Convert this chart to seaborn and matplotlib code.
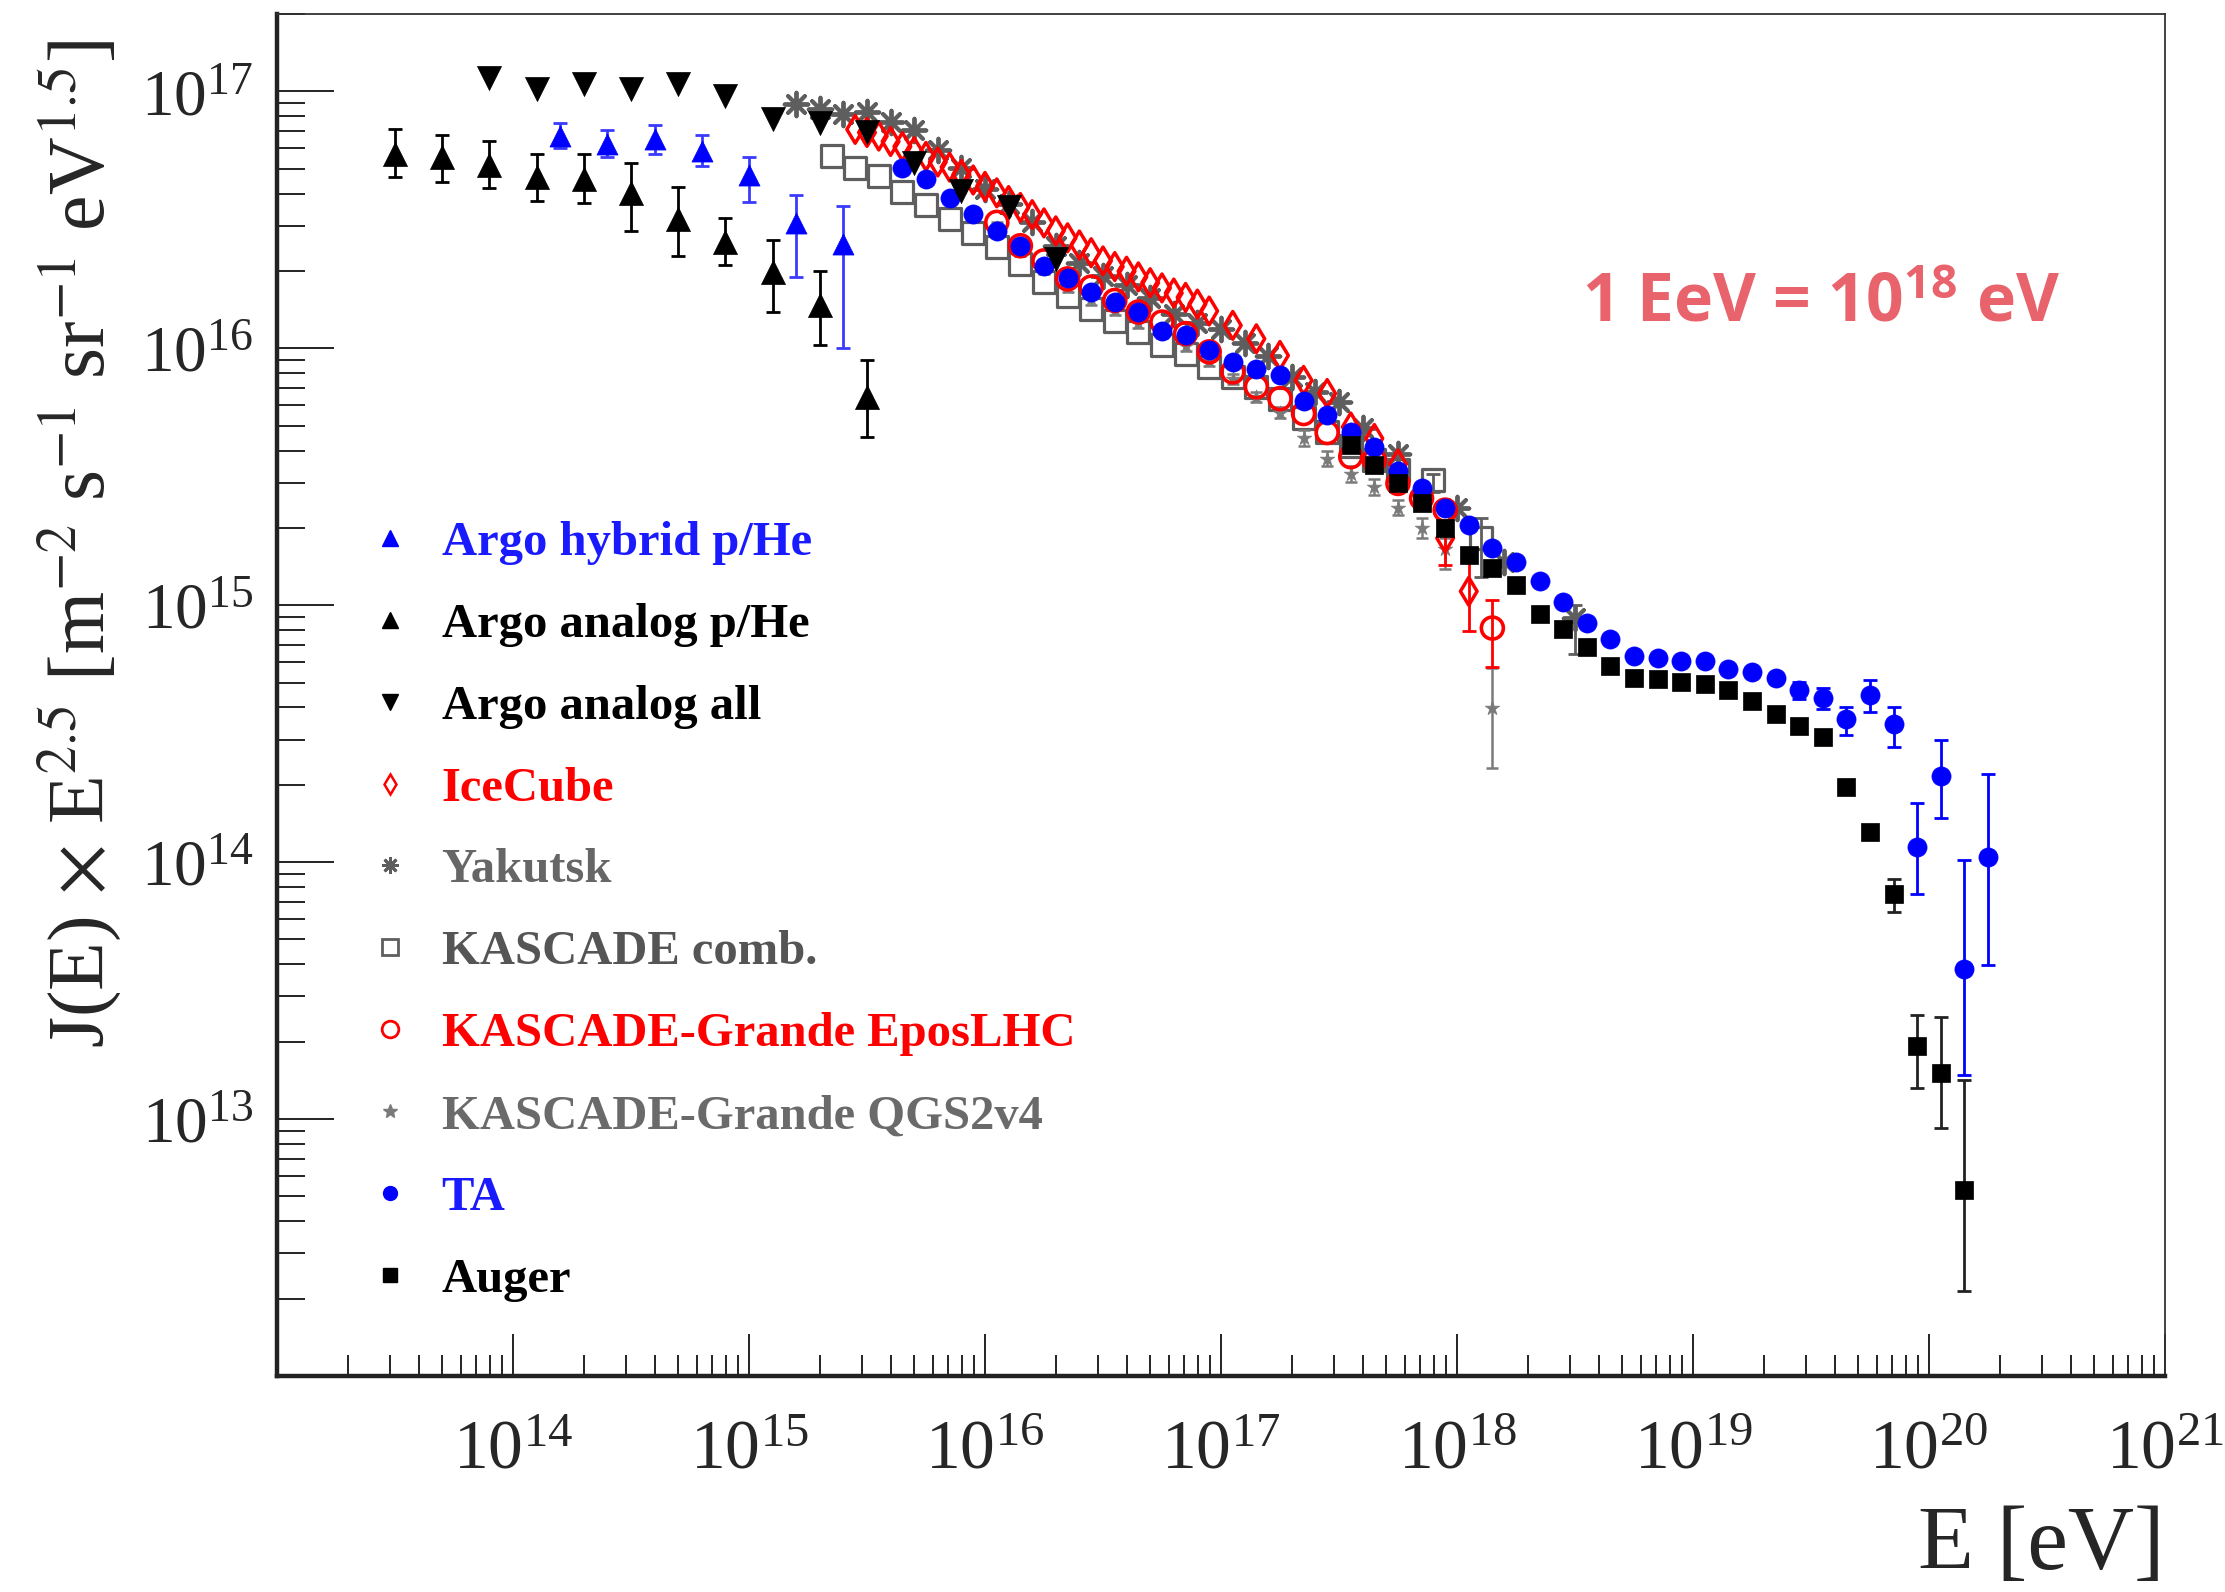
import numpy as np
import pandas as pd
import matplotlib
matplotlib.use("Agg")
import matplotlib.pyplot as plt
import seaborn as sns
from matplotlib.lines import Line2D
from matplotlib.ticker import LogLocator, NullFormatter, FixedLocator

# ---------------- data (log10 E [eV], log10 J*E^2.5) ----------------
argo_hyb_logE = [14.2, 14.4, 14.6, 14.8, 15.0, 15.2, 15.4]
argo_hyb_logJ = [16.827, 16.794, 16.814, 16.768, 16.674, 16.486, 16.406]
argo_hyb_hi = [16.878, 16.850, 16.868, 16.830, 16.746, 16.598, 16.555]
argo_hyb_lo = [16.781, 16.746, 16.755, 16.710, 16.568, 16.279, 16.001]

argo_ana_logE = [13.5, 13.7, 13.9, 14.1, 14.3, 14.5, 14.7, 14.9, 15.1, 15.3, 15.5]
argo_ana_logJ = [16.755, 16.743, 16.713, 16.665, 16.660, 16.604, 16.503, 16.413, 16.296, 16.167, 15.811]
argo_ana_hi = [16.852, 16.830, 16.805, 16.758, 16.758, 16.723, 16.629, 16.507, 16.422, 16.299, 15.953]
argo_ana_lo = [16.665, 16.648, 16.622, 16.574, 16.565, 16.458, 16.361, 16.325, 16.143, 16.014, 15.653]

argo_all_logE = [13.9, 14.1, 14.3, 14.5, 14.7, 14.9, 15.1, 15.3, 15.5, 15.7, 15.9, 16.1, 16.3]
argo_all_logJ = [17.053, 17.011, 17.030, 17.011, 17.030, 16.982, 16.891, 16.876, 16.840,
                 16.722, 16.612, 16.549, 16.348]

icecube_logE = [15.45, 15.50, 15.55, 15.60, 15.65, 15.70, 15.75, 15.80, 15.85, 15.90, 15.95,
                16.00, 16.05, 16.10, 16.15, 16.20, 16.25, 16.30, 16.35, 16.40, 16.45, 16.50,
                16.55, 16.60, 16.65, 16.70, 16.75, 16.80, 16.85, 16.90, 16.95, 17.05, 17.15,
                17.25, 17.35, 17.45, 17.55, 17.65, 17.75, 17.85, 17.95, 18.05]
icecube_logJ = [16.852, 16.840, 16.826, 16.805, 16.785, 16.765, 16.747, 16.725, 16.705, 16.677,
                16.655, 16.630, 16.605, 16.575, 16.548, 16.520, 16.488, 16.457, 16.430, 16.402,
                16.372, 16.340, 16.318, 16.300, 16.278, 16.255, 16.235, 16.215, 16.198, 16.172,
                16.145, 16.089, 16.037, 15.972, 15.875, 15.824, 15.694, 15.649, 15.550, 15.430,
                15.261, 15.054]
icecube_err_logE = [17.95, 18.05]
icecube_err_hi = [15.293, 15.172]
icecube_err_lo = [15.157, 14.899]

yakutsk_logE = [15.2, 15.3, 15.4, 15.5, 15.6, 15.7, 15.8, 15.9, 16.0, 16.1, 16.2, 16.3, 16.4,
                16.5, 16.6, 16.7, 16.8, 16.9, 17.0, 17.1, 17.2, 17.3, 17.4, 17.5, 17.6, 17.75,
                18.0, 18.2, 18.5]
yakutsk_logJ = [16.95, 16.93, 16.91, 16.92, 16.88, 16.85, 16.77, 16.70, 16.62, 16.56, 16.49,
                16.40, 16.33, 16.28, 16.245, 16.195, 16.135, 16.10, 16.075, 16.02, 15.97,
                15.89, 15.83, 15.79, 15.69, 15.59, 15.38, 15.17, 14.95]
yakutsk_err_logE = [18.5]
yakutsk_err_hi = [15.00]
yakutsk_err_lo = [14.81]

kascade_logE = [15.35, 15.45, 15.55, 15.65, 15.75, 15.85, 15.95, 16.05, 16.15, 16.25, 16.35,
                16.45, 16.55, 16.65, 16.75, 16.85, 16.95, 17.05, 17.15, 17.25, 17.35, 17.45,
                17.55, 17.65, 17.75, 17.90, 18.10]
kascade_logJ = [16.747, 16.700, 16.671, 16.609, 16.558, 16.503, 16.449, 16.393, 16.328, 16.257,
                16.203, 16.154, 16.108, 16.063, 16.011, 15.979, 15.927, 15.889, 15.850, 15.804,
                15.727, 15.675, 15.618, 15.564, 15.525, 15.486, 15.260]
kascade_err_logE = [17.90, 18.10]
kascade_err_hi = [15.51, 15.34]
kascade_err_lo = [15.44, 15.11]

epos_logE = [16.05, 16.15, 16.25, 16.35, 16.45, 16.55, 16.65, 16.75, 16.85, 16.95, 17.05,
             17.15, 17.25, 17.35, 17.45, 17.55, 17.65, 17.75, 17.85, 17.95, 18.15]
epos_logJ = [16.490, 16.399, 16.340, 16.270, 16.238, 16.186, 16.141, 16.102, 16.057, 15.986,
             15.908, 15.850, 15.804, 15.746, 15.672, 15.578, 15.564, 15.474, 15.416, 15.370,
             14.911]
epos_err_logE = [18.15]
epos_err_hi = [15.021]
epos_err_lo = [14.758]

qgs_logE = [16.05, 16.15, 16.25, 16.35, 16.45, 16.55, 16.65, 16.75, 16.85, 16.95, 17.05,
            17.15, 17.25, 17.35, 17.45, 17.55, 17.65, 17.75, 17.85, 17.95, 18.15]
qgs_logJ = [16.47, 16.38, 16.31, 16.24, 16.19, 16.15, 16.10, 16.06, 16.01, 15.95, 15.88,
            15.81, 15.75, 15.65, 15.57, 15.51, 15.46, 15.38, 15.30, 15.22, 14.60]
qgs_hi = [16.49, 16.40, 16.33, 16.26, 16.21, 16.17, 16.12, 16.08, 16.03, 15.97, 15.90,
          15.83, 15.77, 15.68, 15.60, 15.54, 15.49, 15.41, 15.34, 15.26, 14.756]
qgs_lo = [16.45, 16.36, 16.29, 16.22, 16.17, 16.13, 16.08, 16.04, 15.99, 15.93, 15.86,
          15.79, 15.73, 15.62, 15.54, 15.48, 15.43, 15.35, 15.26, 15.14, 14.368]

ta_logE = [15.65, 15.75, 15.85, 15.95, 16.05, 16.15, 16.25, 16.35, 16.45, 16.55, 16.65, 16.75,
           16.85, 16.95, 17.05, 17.15, 17.25, 17.35, 17.45, 17.55, 17.65, 17.75, 17.85, 17.95,
           18.05, 18.15, 18.25, 18.35, 18.45, 18.55, 18.65, 18.75, 18.85, 18.95, 19.05, 19.15,
           19.25, 19.35, 19.45, 19.55, 19.65, 19.75, 19.85, 19.95, 20.05, 20.15, 20.25]
ta_logJ = [16.700, 16.658, 16.583, 16.523, 16.458, 16.399, 16.322, 16.274, 16.220, 16.180,
           16.141, 16.069, 16.050, 15.992, 15.947, 15.921, 15.895, 15.795, 15.742, 15.675,
           15.617, 15.522, 15.455, 15.377, 15.313, 15.222, 15.170, 15.093, 15.012, 14.931,
           14.870, 14.801, 14.796, 14.781, 14.781, 14.753, 14.740, 14.716, 14.671, 14.638,
           14.558, 14.651, 14.536, 14.058, 14.337, 13.583, 14.021]
ta_err_logE = [19.45, 19.55, 19.65, 19.75, 19.85, 19.95, 20.05, 20.15, 20.25]
ta_err_hi = [14.703, 14.679, 14.604, 14.707, 14.604, 14.229, 14.476, 14.010, 14.344]
ta_err_lo = [14.634, 14.597, 14.493, 14.586, 14.448, 13.876, 14.170, 13.170, 13.598]

auger_logE = [17.55, 17.65, 17.75, 17.85, 17.95, 18.05, 18.15, 18.25, 18.35, 18.45, 18.55,
              18.65, 18.75, 18.85, 18.95, 19.05, 19.15, 19.25, 19.35, 19.45, 19.55, 19.65,
              19.75, 19.85, 19.95, 20.05, 20.15]
auger_logJ = [15.623, 15.545, 15.474, 15.397, 15.300, 15.196, 15.144, 15.080, 14.964, 14.907,
              14.836, 14.762, 14.716, 14.712, 14.703, 14.694, 14.671, 14.628, 14.578, 14.530,
              14.486, 14.294, 14.118, 13.876, 13.286, 13.180, 12.725]
auger_err_logE = [19.75, 19.85, 19.95, 20.05, 20.15]
auger_err_hi = [14.140, 13.936, 13.406, 13.399, 13.152]
auger_err_lo = [14.095, 13.806, 13.120, 12.966, 12.331]

legend_labels = ["Argo hybrid p/He", "Argo analog p/He", "Argo analog all", "IceCube",
                 "Yakutsk", "KASCADE comb.", "KASCADE-Grande EposLHC",
                 "KASCADE-Grande QGS2v4", "TA", "Auger"]
x_tick_exponents = [14, 15, 16, 17, 18, 19, 20, 21]
y_tick_exponents = [13, 14, 15, 16, 17]

# ---------------- style ----------------
sns.set_theme(style="white")
plt.rcParams["font.family"] = ["Liberation Serif", "DejaVu Serif"]
plt.rcParams["mathtext.fontset"] = "stix"

BLUE = "#0000ff"
RED = "#ff0000"
GRAY = "#5e5e5e"
LGRAY = "#7a7a7a"

fig = plt.figure(figsize=(22.25, 15.92), dpi=100)
ax = fig.add_axes([0.1245, 0.1357, 0.8485, 0.8555])
ax.set_xscale("log")
ax.set_yscale("log")


def to_df(logE, logJ):
    return pd.DataFrame({"E": np.power(10.0, logE), "J": np.power(10.0, logJ)})


def errbars(logE, logJ, hi, lo, color, z, lw=2.0, cap=5):
    E = np.power(10.0, logE)
    J = np.power(10.0, logJ)
    up = np.power(10.0, hi) - J
    dn = J - np.power(10.0, lo)
    ax.errorbar(E, J, yerr=[dn, up], fmt="none", ecolor=color, elinewidth=lw,
                capsize=cap, capthick=lw, zorder=z)


def errbars_only(logE, hi, lo, color, z, lw=2.0, cap=5):
    E = np.power(10.0, logE)
    h = np.power(10.0, hi)
    l = np.power(10.0, lo)
    ax.vlines(E, l, h, colors=color, linewidth=lw, zorder=z)
    ax.scatter(E, h, marker="_", s=cap * cap * 4, color=color, linewidths=lw, zorder=z)
    ax.scatter(E, l, marker="_", s=cap * cap * 4, color=color, linewidths=lw, zorder=z)


# KASCADE comb.
errbars_only(kascade_err_logE, kascade_err_hi, kascade_err_lo, GRAY, 2)
sns.scatterplot(data=to_df(kascade_logE, kascade_logJ), x="E", y="J", marker="s", s=250,
                facecolor="none", edgecolor=GRAY, linewidth=2.3, ax=ax, zorder=2, legend=False)
# QGS2v4
errbars(qgs_logE, qgs_logJ, qgs_hi, qgs_lo, LGRAY, 3, lw=1.8, cap=4)
sns.scatterplot(data=to_df(qgs_logE, qgs_logJ), x="E", y="J", marker="*", s=120,
                color=LGRAY, edgecolor=LGRAY, linewidth=0.5, ax=ax, zorder=3, legend=False)
# Yakutsk
errbars_only(yakutsk_err_logE, yakutsk_err_hi, yakutsk_err_lo, GRAY, 4)
sns.scatterplot(data=to_df(yakutsk_logE, yakutsk_logJ), x="E", y="J", marker=(8, 2, 0), s=290,
                color=GRAY, linewidth=2.8, ax=ax, zorder=4, legend=False)
# IceCube
errbars_only(icecube_err_logE, icecube_err_hi, icecube_err_lo, RED, 5)
sns.scatterplot(data=to_df(icecube_logE, icecube_logJ), x="E", y="J", marker="d", s=200,
                facecolor="none", edgecolor=RED, linewidth=2.5, ax=ax, zorder=5, legend=False)
# KASCADE-Grande EposLHC
errbars_only(epos_err_logE, epos_err_hi, epos_err_lo, RED, 6)
sns.scatterplot(data=to_df(epos_logE, epos_logJ), x="E", y="J", marker="o", s=250,
                facecolor="none", edgecolor=RED, linewidth=2.6, ax=ax, zorder=6, legend=False)
# TA
errbars_only(ta_err_logE, ta_err_hi, ta_err_lo, BLUE, 7)
sns.scatterplot(data=to_df(ta_logE, ta_logJ), x="E", y="J", marker="o", s=190,
                color=BLUE, edgecolor=BLUE, linewidth=0.5, ax=ax, zorder=7, legend=False)
# Auger
errbars_only(auger_err_logE, auger_err_hi, auger_err_lo, "#222222", 8)
sns.scatterplot(data=to_df(auger_logE, auger_logJ), x="E", y="J", marker="s", s=185,
                color="black", edgecolor="black", linewidth=0.5, ax=ax, zorder=8, legend=False)
# Argo analog all
sns.scatterplot(data=to_df(argo_all_logE, argo_all_logJ), x="E", y="J", marker="v", s=300,
                color="black", edgecolor="black", linewidth=0.5, ax=ax, zorder=9, legend=False)
# Argo analog p/He
errbars(argo_ana_logE, argo_ana_logJ, argo_ana_hi, argo_ana_lo, "black", 9)
sns.scatterplot(data=to_df(argo_ana_logE, argo_ana_logJ), x="E", y="J", marker="^", s=300,
                color="black", edgecolor="black", linewidth=0.5, ax=ax, zorder=10, legend=False)
# Argo hybrid p/He
errbars(argo_hyb_logE, argo_hyb_logJ, argo_hyb_hi, argo_hyb_lo, "#3a3aff", 9)
sns.scatterplot(data=to_df(argo_hyb_logE, argo_hyb_logJ), x="E", y="J", marker="^", s=230,
                color=BLUE, edgecolor=BLUE, linewidth=0.5, ax=ax, zorder=10, legend=False)

# ---------------- axes ----------------
ax.set_xlim(1e13, 1e21)
ax.set_ylim(1e12, 2e17)
ax.xaxis.set_major_locator(FixedLocator([10.0 ** k for k in x_tick_exponents]))
ax.yaxis.set_major_locator(FixedLocator([10.0 ** k for k in y_tick_exponents]))
ax.set_xticklabels([r"$\mathdefault{10^{%d}}$" % k for k in x_tick_exponents])
ax.set_yticklabels([r"$\mathdefault{10^{%d}}$" % k for k in y_tick_exponents])
ax.xaxis.set_minor_locator(LogLocator(base=10, subs=np.arange(2, 10), numticks=30))
ax.yaxis.set_minor_locator(LogLocator(base=10, subs=np.arange(2, 10), numticks=30))
ax.xaxis.set_minor_formatter(NullFormatter())
ax.yaxis.set_minor_formatter(NullFormatter())

ax.tick_params(axis="x", which="major", direction="in", length=30, width=1.4, pad=32,
               labelsize=50, bottom=True, top=False, color="#222222")
ax.tick_params(axis="x", which="minor", direction="in", length=15, width=1.4,
               bottom=True, top=False, color="#222222")
ax.tick_params(axis="y", which="major", direction="in", length=41, width=1.4, pad=17,
               labelsize=47, left=True, right=False, color="#222222")
ax.tick_params(axis="y", which="minor", direction="in", length=20, width=1.4,
               left=True, right=False, color="#222222")

for side in ["left", "bottom"]:
    ax.spines[side].set_linewidth(3.2)
    ax.spines[side].set_color("#222222")
for side in ["top", "right"]:
    ax.spines[side].set_linewidth(1.3)
    ax.spines[side].set_color("#333333")
ax.grid(False)

ax.set_ylabel(r"J(E) $\times$ E$^{2.5}$ [m$^{-2}$ s$^{-1}$ sr$^{-1}$ eV$^{1.5}$]",
              fontsize=57.5, va="center")
ax.yaxis.set_label_coords(-0.105, 0.611)
ax.set_xlabel("E [eV]", fontsize=66, ha="right", va="center")
ax.xaxis.set_label_coords(1.0, -0.1256)

ax.text(0.818, 0.787, r"1 EeV = 10$^{\mathregular{18}}$ eV", transform=ax.transAxes,
        ha="center", va="center", color="#e8636b", fontsize=47.5,
        family=["Open Sans", "DejaVu Sans"], fontweight="bold")

# ---------------- legend ----------------
handles = [
    Line2D([], [], ls="none", marker="^", ms=11, color=BLUE),
    Line2D([], [], ls="none", marker="^", ms=11, color="black"),
    Line2D([], [], ls="none", marker="v", ms=11, color="black"),
    Line2D([], [], ls="none", marker="d", ms=10, mfc="none", mec=RED, mew=1.8),
    Line2D([], [], ls="none", marker=(8, 2, 0), ms=12, color=GRAY, mew=2.0),
    Line2D([], [], ls="none", marker="s", ms=12, mfc="none", mec=GRAY, mew=2.0),
    Line2D([], [], ls="none", marker="o", ms=12, mfc="none", mec=RED, mew=2.0),
    Line2D([], [], ls="none", marker="*", ms=10, color=LGRAY),
    Line2D([], [], ls="none", marker="o", ms=10, color=BLUE),
    Line2D([], [], ls="none", marker="s", ms=10, color="black"),
]
label_colors = ["#1a1aff", "black", "black", RED, "#666666", "#555555", RED, "#6a6a6a",
                "#1a1aff", "black"]
ax.legend(handles, legend_labels, loc="upper left", bbox_to_anchor=(0.047, 0.628),
          frameon=False, borderaxespad=0, borderpad=0, handlelength=1.0,
          handletextpad=0.56, labelspacing=0.78, labelcolor=label_colors,
          prop={"family": "Liberation Serif", "weight": "bold", "size": 35})

fig.savefig("out.png", dpi=100)
